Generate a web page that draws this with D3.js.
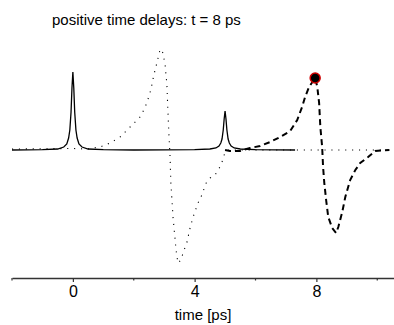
<!DOCTYPE html>
<html>
<head>
<meta charset="utf-8">
<script src="https://cdn.jsdelivr.net/npm/d3@7"></script>
<style>
  body { margin: 0; background: #fff; }
  svg { display: block; font-family: "Liberation Sans", Arial, sans-serif; }
</style>
</head>
<body>
<figure id="chart" style="margin:0"></figure>
<script>
// time delay (ps) and signal (arb. units)
const solidT = [-2, -1, -0.5, -0.3, -0.2, -0.14, -0.1, -0.06, -0.03, 0, 0.03, 0.06, 0.1, 0.14, 0.2, 0.3, 0.5, 1, 2, 4, 4.5, 4.7, 4.8, 4.86, 4.9, 4.94, 4.97, 5, 5.03, 5.06, 5.1, 5.14, 5.2, 5.3, 5.5, 6, 7.3];
const solidY = [0, 0.003, 0.01, 0.03, 0.06, 0.12, 0.2, 0.38, 0.62, 0.78, 0.62, 0.38, 0.2, 0.12, 0.06, 0.03, 0.01, 0.003, 0, 0.003, 0.01, 0.02, 0.04, 0.07, 0.11, 0.2, 0.31, 0.39, 0.31, 0.2, 0.11, 0.07, 0.04, 0.02, 0.01, 0.003, 0];

const dottedT = [-2, 0, 0.46, 0.89, 1.22, 1.55, 1.88, 2.24, 2.43, 2.57, 2.66, 2.76, 2.86, 2.89, 2.96, 3.03, 3.09, 3.12, 3.16, 3.19, 3.22, 3.29, 3.39, 3.45, 3.55, 3.62, 3.75, 3.85, 3.95, 4.11, 4.21, 4.38, 4.51, 4.67, 4.77, 4.87, 4.97, 5.03, 5.13, 10.4];
const dottedY = [0.01, 0.015, 0.01, 0.03, 0.07, 0.13, 0.23, 0.34, 0.47, 0.61, 0.75, 0.87, 1.0, 1.01, 0.97, 0.85, 0.65, 0.4, 0.13, -0.05, -0.33, -0.67, -1.0, -1.13, -1.1, -1.03, -0.92, -0.78, -0.67, -0.53, -0.47, -0.33, -0.28, -0.25, -0.2, -0.15, -0.05, -0.01, 0, 0];

const dashedT = [5.0, 5.16, 5.49, 5.82, 6.15, 6.48, 6.81, 7.14, 7.37, 7.53, 7.63, 7.76, 7.96, 8.03, 8.09, 8.13, 8.19, 8.22, 8.26, 8.32, 8.39, 8.52, 8.65, 8.72, 8.85, 8.95, 9.11, 9.28, 9.44, 9.7, 9.93, 10.4];
const dashedY = [0, -0.01, -0.01, 0.02, 0.04, 0.08, 0.13, 0.19, 0.3, 0.43, 0.53, 0.63, 0.72, 0.63, 0.47, 0.23, 0.03, -0.17, -0.33, -0.5, -0.67, -0.78, -0.83, -0.77, -0.62, -0.47, -0.3, -0.2, -0.13, -0.07, -0.01, 0];

const markerT = [7.96];
const markerY = [0.72];

const majorTicks = [0, 4, 8];
const minorTicks = [-2, 2, 6, 10];

const titleText = "positive time delays: t = 8 ps";
const xLabel = "time [ps]";

const width = 394, height = 325;

const svg = d3.select("#chart")
  .append("svg")
  .attr("width", width)
  .attr("height", height);

const x = d3.scaleLinear().domain([-2, 10.55]).range([12, 394]);
const y = d3.scaleLinear().domain([-1.28, 1.1]).range([278, 40]);

const line = d3.line()
  .x(d => x(d[0]))
  .y(d => y(d[1]));

function pairs(ts, ys) {
  return ts.map((t, i) => [t, ys[i]]);
}

// title
svg.append("text")
  .attr("x", 52)
  .attr("y", 25)
  .style("font-size", "15px")
  .text(titleText);

// curves
svg.append("path")
  .datum(pairs(dottedT, dottedY))
  .attr("d", line)
  .attr("fill", "none")
  .attr("stroke", "#000")
  .attr("stroke-width", 1.1)
  .attr("stroke-dasharray", "1.1,5.8");

svg.append("path")
  .datum(pairs(solidT, solidY))
  .attr("d", line)
  .attr("fill", "none")
  .attr("stroke", "#000")
  .attr("stroke-width", 1.3);

svg.append("path")
  .datum(pairs(dashedT, dashedY))
  .attr("d", line)
  .attr("fill", "none")
  .attr("stroke", "#000")
  .attr("stroke-width", 2)
  .attr("stroke-dasharray", "6,4");

svg.selectAll(".marker")
  .data(pairs(markerT, markerY))
  .enter()
  .append("circle")
  .attr("class", "marker")
  .attr("cx", d => x(d[0]))
  .attr("cy", d => y(d[1]))
  .attr("r", 5)
  .attr("fill", "#000")
  .attr("stroke", "#d00000")
  .attr("stroke-width", 1.5);

// x axis
const axisY = y.range()[0];
const xAxis = d3.axisBottom(x)
  .tickValues(majorTicks)
  .tickSize(4)
  .tickSizeOuter(0)
  .tickPadding(4);

const gx = svg.append("g")
  .attr("transform", "translate(0," + axisY + ")")
  .call(xAxis);

gx.select(".domain").attr("stroke", "#333").attr("stroke-width", 1.5);
gx.selectAll(".tick line").attr("stroke", "#333").attr("stroke-width", 1.2);
gx.selectAll(".tick text")
  .attr("fill", "#000")
  .style("font-size", "16px")
  .style("font-family", "'Liberation Sans', Arial, sans-serif");

gx.selectAll(".minor")
  .data(minorTicks)
  .enter()
  .append("line")
  .attr("class", "minor")
  .attr("x1", d => x(d))
  .attr("x2", d => x(d))
  .attr("y1", 0)
  .attr("y2", 2.5)
  .attr("stroke", "#333")
  .attr("stroke-width", 1.2);

svg.append("text")
  .attr("x", (x.range()[0] + x.range()[1]) / 2)
  .attr("y", 320)
  .attr("text-anchor", "middle")
  .style("font-size", "15px")
  .text(xLabel);
</script>
</body>
</html>
